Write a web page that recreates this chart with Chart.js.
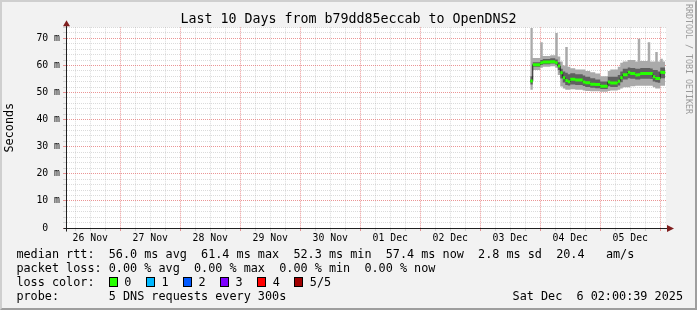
<!DOCTYPE html>
<html>
<head>
<meta charset="utf-8">
<script src="https://cdn.jsdelivr.net/npm/chart.js@4.4.1/dist/chart.umd.min.js"></script>
<style>
  html, body { margin: 0; padding: 0; background: #f2f2f2; }
  #wrap { position: relative; width: 697px; height: 310px; background: #f2f2f2; overflow: hidden; }
  #wrap canvas { position: absolute; left: 0; top: 0; }
  #shade { position: absolute; left: 0; top: 0; width: 697px; height: 310px; box-sizing: border-box;
           border: 2px solid; border-color: #cfcfcf #9e9e9e #9e9e9e #cfcfcf; pointer-events: none; }
  .txt { position: absolute; font-family: 'DejaVu Sans Mono', monospace; color: #000; white-space: pre; }
  #title { left: 0; top: 11px; width: 697px; text-align: center; font-size: 13.3px; line-height: 16px; }
  #legend { left: 16.4px; top: 247px; font-size: 11.8px; line-height: 14px; }
  #stamp { right: 14px; top: 289px; font-size: 11.8px; line-height: 14px; }
  #brand { left: 684px; top: 4px; font-size: 8.3px; color: #9a9a9a; writing-mode: vertical-rl; }
  .entry { display: inline-block; width: 37.1px; }
  .sw { display: inline-block; width: 9px; height: 10px; box-sizing: border-box; border: 1px solid #000;
        margin-right: 6.6px; vertical-align: -1px; }
</style>
</head>
<body>
<div id="wrap">
  <canvas id="smoke" width="697" height="310"></canvas>
  <div id="shade"></div>
  <div class="txt" id="title">Last 10 Days from b79dd85eccab to OpenDNS2</div>
  <div class="txt" id="brand">RRDTOOL / TOBI OETIKER</div>
  <div class="txt" id="legend"></div>
  <div class="txt" id="stamp">Sat Dec  6 02:00:39 2025</div>
</div>
<script>
// time in hours since 26 Nov 00:00
var dayLabels = ['26 Nov', '27 Nov', '28 Nov', '29 Nov', '30 Nov', '01 Dec', '02 Dec', '03 Dec', '04 Dec', '05 Dec'];
var yLabels = ['0  ', '10 m', '20 m', '30 m', '40 m', '50 m', '60 m', '70 m'];

// start hour of each consolidated sample, plus the end of the last one
var starts = [188, 189, 192, 193, 196, 198, 199, 200, 201, 202, 203, 204, 206, 209, 210, 212, 214, 216,
              219, 220, 223, 224, 225, 227, 228, 230, 231, 232, 235, 236, 237, 238, 239, 240, 241];
var endHour = 242;

// ms, sorted pings per sample (5 pings)
var median = [54.3, 60.3, 61.0, 61.3, 61.4, 61.0, 59.8, 57.3, 55.5, 54.5, 54.0, 54.9, 54.6, 53.9, 53.6, 53.1, 53.0, 52.3,
              53.9, 53.5, 54.2, 55.5, 56.6, 57.5, 57.0, 56.5, 56.6, 57.0, 57.0, 57.0, 55.8, 55.2, 55.2, 57.5, 57.4];
var ping1 = [51, 58.3, 59.2, 59.5, 59.7, 59.2, 56.5, 52.2, 51.5, 51, 51, 51.2, 51, 50.8, 50.6, 50.5, 50.5, 50.3,
             50.6, 50.8, 51, 51.5, 52, 52, 52.3, 52.5, 52.5, 52.5, 52.5, 52.5, 52, 51.5, 51.5, 52.5, 52.5];
var ping2 = [53, 59.5, 60.2, 60.5, 60.7, 60.3, 58.3, 55.2, 53.7, 52.8, 52.6, 53, 52.8, 52.4, 52.1, 51.8, 51.6, 51.3,
             52.3, 52.1, 52.6, 53.8, 54.8, 55.3, 55.1, 54.8, 54.8, 55.1, 55.1, 55, 54.1, 53.8, 53.6, 55.3, 55.3];
var ping4 = [56, 61.2, 62, 62.4, 62.7, 62.2, 61.2, 58.8, 57.8, 57.3, 56.8, 57.1, 56.8, 56.3, 55.8, 55.3, 54.8, 54.1,
             55.8, 55.8, 56.5, 57.8, 58.8, 59.3, 59.1, 58.8, 58.8, 59.1, 59.1, 58.9, 58.3, 58.3, 57.8, 59.3, 59.3];
var ping5 = [73.8, 62.8, 68.6, 63.5, 63.8, 72, 63.3, 61.5, 60, 66.8, 59.5, 59, 58.5, 58.5, 58, 57.5, 57, 56,
             58, 58.5, 59.5, 61, 61.5, 62, 62, 61.5, 69.9, 61.7, 68.6, 61.5, 61.5, 65, 61.5, 62.5, 61.5];

var lossLabels = ['0', '1', '2', '3', '4', '5/5'];
var lossColors = ['#26ff00', '#00b8ff', '#0059ff', '#7e00ff', '#ff0000', '#a10000'];

var statsLines = [
  'median rtt:  56.0 ms avg  61.4 ms max  52.3 ms min  57.4 ms now  2.8 ms sd  20.4   am/s',
  'packet loss: 0.00 % avg  0.00 % max  0.00 % min  0.00 % now'
];
var probeLine = 'probe:       5 DNS requests every 300s';

var lossHtml = lossLabels.map(function (l, i) {
  return '<span class="entry"><span class="sw" style="background:' + lossColors[i] + '"></span>' + l + '</span>';
}).join('');
document.getElementById('legend').innerHTML =
  statsLines.join('\n') + '\nloss color:  ' + lossHtml + '\n' + probeLine;

var gridHours = [];
for (var h = 6; h <= 240; h += 6) gridHours.push(h);

function stepPoints(vals) {
  var pts = starts.map(function (s, i) { return {x: s, y: vals[i]}; });
  pts.push({x: endHour, y: vals[vals.length - 1]});
  return pts;
}
function dashPoints(vals) {
  var pts = [];
  starts.forEach(function (s, i) {
    var e = i + 1 < starts.length ? starts[i + 1] : endHour;
    pts.push({x: s, y: vals[i]}, {x: e, y: vals[i]}, {x: e, y: null});
  });
  return pts;
}

var minorColor = 'rgba(143,143,143,0.32)';
var majorColor = 'rgba(222,79,79,0.6)';

var rrdFrame = {
  id: 'rrdFrame',
  beforeDraw: function (chart) {
    var a = chart.chartArea, ctx = chart.ctx;
    ctx.save();
    ctx.fillStyle = '#ffffff';
    ctx.fillRect(a.left, a.top, a.right - a.left, a.bottom - a.top);
    ctx.restore();
  },
  afterDraw: function (chart) {
    var a = chart.chartArea, ctx = chart.ctx;
    var x0 = Math.round(a.left) + 0.5, y0 = Math.round(a.bottom) + 0.5;
    ctx.save();
    ctx.strokeStyle = '#1f1f1f';
    ctx.lineWidth = 1;
    ctx.beginPath();
    ctx.moveTo(x0, y0 + 3); ctx.lineTo(x0, a.top - 2);
    ctx.moveTo(x0 - 3, y0); ctx.lineTo(a.right + 2, y0);
    ctx.stroke();
    ctx.fillStyle = '#801f1f';
    ctx.beginPath();
    ctx.moveTo(x0 - 3.5, a.top - 1); ctx.lineTo(x0 + 3.5, a.top - 1); ctx.lineTo(x0, a.top - 7);
    ctx.closePath(); ctx.fill();
    ctx.beginPath();
    ctx.moveTo(a.right + 1, y0 - 3.5); ctx.lineTo(a.right + 1, y0 + 3.5); ctx.lineTo(a.right + 8, y0);
    ctx.closePath(); ctx.fill();
    ctx.restore();
  }
};

function gridCol(ctx, major) {
  return ctx.tick && ctx.tick.value % major === 0 ? majorColor : minorColor;
}

Chart.defaults.font.family = "'DejaVu Sans Mono', monospace";
Chart.defaults.color = '#000';

var chart = new Chart(document.getElementById('smoke').getContext('2d'), {
  type: 'line',
  data: {
    datasets: [
      {label: 'median rtt', data: dashPoints(median), borderColor: '#26ff00', borderWidth: 3,
       borderCapStyle: 'butt', pointRadius: 0, spanGaps: false, fill: false},
      {label: 'median line', data: stepPoints(median), stepped: true, borderColor: '#202020',
       borderWidth: 1, pointRadius: 0, fill: false},
      {label: 'ping 4', data: stepPoints(ping4), stepped: true, borderWidth: 0, pointRadius: 0,
       fill: '+1', backgroundColor: '#606060'},
      {label: 'ping 2', data: stepPoints(ping2), stepped: true, borderWidth: 0, pointRadius: 0, fill: false},
      {label: 'ping 5', data: stepPoints(ping5), stepped: true, borderWidth: 0, pointRadius: 0,
       fill: '+1', backgroundColor: '#aaaaaa'},
      {label: 'ping 1', data: stepPoints(ping1), stepped: true, borderWidth: 0, pointRadius: 0, fill: false}
    ]
  },
  options: {
    responsive: false,
    devicePixelRatio: 1,
    animation: false,
    layout: {padding: {left: 0, top: 27.3, right: 31, bottom: 62}},
    plugins: {
      legend: {display: false},
      tooltip: {enabled: false},
      title: {display: false}
    },
    scales: {
      x: {
        type: 'linear',
        min: 2.3,
        max: 242.3,
        afterBuildTicks: function (scale) {
          scale.ticks = gridHours.map(function (v) { return {value: v}; });
        },
        afterFit: function (scale) { scale.height = 20; },
        ticks: {
          autoSkip: false, maxRotation: 0, minRotation: 0, padding: 1.5,
          font: {size: 9.8},
          callback: function (v) { return v % 24 === 12 ? dayLabels[(v - 12) / 24] : ''; }
        },
        grid: {
          color: function (c) { return gridCol(c, 24); },
          tickColor: function (c) { return gridCol(c, 24); },
          tickLength: 3,
          lineWidth: 1
        },
        border: {color: '#1f1f1f', width: 1, dash: [1, 1]}
      },
      y: {
        min: 0,
        max: 74.1,
        afterFit: function (scale) { scale.width = 66; },
        ticks: {
          stepSize: 2, includeBounds: false, autoSkip: false, padding: 3,
          font: {size: 9.8},
          callback: function (v) { return v % 10 === 0 ? yLabels[v / 10] : ''; }
        },
        grid: {
          color: function (c) { return gridCol(c, 10); },
          tickColor: function (c) { return gridCol(c, 10); },
          tickLength: 3,
          lineWidth: 1
        },
        border: {color: '#1f1f1f', width: 1, dash: [1, 1]},
        title: {
          display: true, text: 'Seconds', color: '#000',
          font: {size: 11.8}, padding: {top: 3.2, bottom: 0}
        }
      }
    }
  },
  plugins: [rrdFrame]
});
</script>
</body>
</html>
